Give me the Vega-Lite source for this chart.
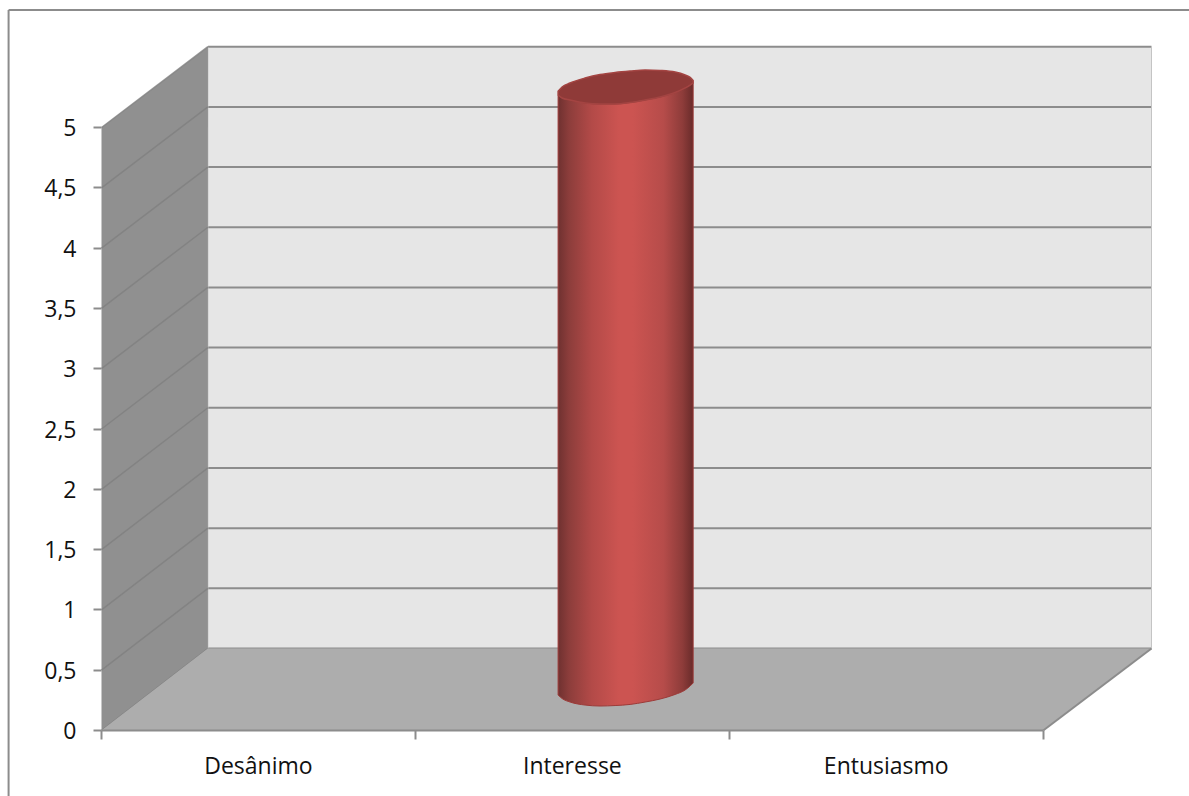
{
  "$schema": "https://vega.github.io/schema/vega-lite/v6.json",
  "width": 1050,
  "height": 685,
  "autosize": "none",
  "padding": {"left": 101.5, "top": 45.5, "right": 37.5, "bottom": 65.5},
  "background": "white",
  "config": {"view": {"stroke": null}, "axis": {"translate": 0, "grid": false, "domain": false, "title": null}},
  "datasets": {
    "parede_lateral": [
      {"x": 0, "base": 0, "topo": 5},
      {"x": 0.339, "base": 0.68, "topo": 5.67}
    ],
    "piso": [
      {"x": 0, "base": 0, "topo": 0},
      {"x": 0.339, "base": 0, "topo": 0.68},
      {"x": 3, "base": 0, "topo": 0.68},
      {"x": 3.345, "base": 0.68, "topo": 0.68}
    ],
    "parede_fundo": [{"x": 0.339, "x2": 3.345, "y": 0.68, "y2": 5.67}],
    "grade_fundo": [
      {"x": 0.339, "x2": 3.345, "y": 0.68, "y2": 0.68},
      {"x": 0.339, "x2": 3.345, "y": 1.179, "y2": 1.179},
      {"x": 0.339, "x2": 3.345, "y": 1.678, "y2": 1.678},
      {"x": 0.339, "x2": 3.345, "y": 2.177, "y2": 2.177},
      {"x": 0.339, "x2": 3.345, "y": 2.676, "y2": 2.676},
      {"x": 0.339, "x2": 3.345, "y": 3.175, "y2": 3.175},
      {"x": 0.339, "x2": 3.345, "y": 3.674, "y2": 3.674},
      {"x": 0.339, "x2": 3.345, "y": 4.173, "y2": 4.173},
      {"x": 0.339, "x2": 3.345, "y": 4.672, "y2": 4.672},
      {"x": 0.339, "x2": 3.345, "y": 5.171, "y2": 5.171},
      {"x": 0.339, "x2": 3.345, "y": 5.67, "y2": 5.67}
    ],
    "grade_lateral": [
      {"x": 0, "x2": 0.339, "y": 0, "y2": 0.68},
      {"x": 0, "x2": 0.339, "y": 0.5, "y2": 1.179},
      {"x": 0, "x2": 0.339, "y": 1, "y2": 1.678},
      {"x": 0, "x2": 0.339, "y": 1.5, "y2": 2.177},
      {"x": 0, "x2": 0.339, "y": 2, "y2": 2.676},
      {"x": 0, "x2": 0.339, "y": 2.5, "y2": 3.175},
      {"x": 0, "x2": 0.339, "y": 3, "y2": 3.674},
      {"x": 0, "x2": 0.339, "y": 3.5, "y2": 4.173},
      {"x": 0, "x2": 0.339, "y": 4, "y2": 4.672},
      {"x": 0, "x2": 0.339, "y": 4.5, "y2": 5.171},
      {"x": 0, "x2": 0.339, "y": 5, "y2": 5.67}
    ],
    "arestas": [
      {"x": 0, "x2": 3, "y": 0, "y2": 0},
      {"x": 3, "x2": 3.345, "y": 0, "y2": 0.68}
    ],
    "arestas_claras": [
      {"x": 0.339, "x2": 0.339, "y": 0.68, "y2": 5.67},
      {"x": 3.345, "x2": 3.345, "y": 0.68, "y2": 5.67}
    ],
    "moldura": [
      {"x": -0.296, "x2": -0.296, "y": 5.974, "y2": -0.543},
      {"x": -0.296, "x2": 3.465, "y": 5.974, "y2": 5.974}
    ],
    "cilindro": [
      {"posicao": 1.4546, "topo_sup": 5.3, "topo_inf": 5.27, "base": 0.294},
      {"posicao": 1.4673, "topo_sup": 5.336, "topo_inf": 5.245, "base": 0.265},
      {"posicao": 1.4928, "topo_sup": 5.369, "topo_inf": 5.228, "base": 0.236},
      {"posicao": 1.5406, "topo_sup": 5.41, "topo_inf": 5.203, "base": 0.211},
      {"posicao": 1.5884, "topo_sup": 5.439, "topo_inf": 5.195, "base": 0.203},
      {"posicao": 1.6362, "topo_sup": 5.456, "topo_inf": 5.195, "base": 0.207},
      {"posicao": 1.684, "topo_sup": 5.468, "topo_inf": 5.207, "base": 0.216},
      {"posicao": 1.7318, "topo_sup": 5.477, "topo_inf": 5.228, "base": 0.236},
      {"posicao": 1.7796, "topo_sup": 5.473, "topo_inf": 5.253, "base": 0.261},
      {"posicao": 1.8274, "topo_sup": 5.46, "topo_inf": 5.29, "base": 0.299},
      {"posicao": 1.8593, "topo_sup": 5.435, "topo_inf": 5.328, "base": 0.336},
      {"posicao": 1.8752, "topo_sup": 5.415, "topo_inf": 5.352, "base": 0.369},
      {"posicao": 1.8848, "topo_sup": 5.39, "topo_inf": 5.37, "base": 0.394}
    ]
  },
  "layer": [
    {
      "data": {"name": "parede_fundo"},
      "mark": {"type": "rect", "color": "#e6e6e6"},
      "encoding": {
        "x": {
          "field": "x",
          "type": "quantitative",
          "scale": {"domain": [0, 3.345], "nice": false, "zero": false},
          "axis": {
            "values": [0, 0.5, 1, 1.5, 2, 2.5, 3],
            "tickColor": "#8c8c8c",
            "tickWidth": 2,
            "tickSize": 9,
            "tickOpacity": {"condition": {"test": "datum.value % 1 === 0", "value": 1}, "value": 0},
            "labelExpr": "datum.value === 0.5 ? 'Desânimo' : datum.value === 1.5 ? 'Interesse' : datum.value === 2.5 ? 'Entusiasmo' : ''",
            "labelFont": "Open Sans",
            "labelFontSize": 23,
            "labelColor": "#111111",
            "labelPadding": 16,
            "labelFlush": false,
            "labelOverlap": false
          }
        },
        "x2": {"field": "x2"},
        "y": {
          "field": "y",
          "type": "quantitative",
          "scale": {"domain": [0, 5.68], "nice": false, "zero": false},
          "axis": {
            "values": [0, 0.5, 1, 1.5, 2, 2.5, 3, 3.5, 4, 4.5, 5],
            "format": ".1~f",
            "labelExpr": "replace(datum.label, '.', ',')",
            "tickColor": "#8c8c8c",
            "tickWidth": 2,
            "tickSize": 8,
            "labelFont": "Open Sans",
            "labelFontSize": 23,
            "labelColor": "#111111",
            "labelPadding": 17,
            "labelOffset": 1.5,
            "labelOverlap": false
          }
        },
        "y2": {"field": "y2"}
      }
    },
    {
      "data": {"name": "grade_fundo"},
      "mark": {"type": "rule", "color": "#8c8c8c", "strokeWidth": 2},
      "encoding": {
        "x": {"field": "x", "type": "quantitative"},
        "x2": {"field": "x2"},
        "y": {"field": "y", "type": "quantitative"},
        "y2": {"field": "y2"}
      }
    },
    {
      "data": {"name": "arestas_claras"},
      "mark": {"type": "rule", "color": "#c4c4c4", "strokeWidth": 1},
      "encoding": {
        "x": {"field": "x", "type": "quantitative"},
        "x2": {"field": "x2"},
        "y": {"field": "y", "type": "quantitative"},
        "y2": {"field": "y2"}
      }
    },
    {
      "data": {"name": "parede_lateral"},
      "mark": {"type": "area", "color": "#909090", "interpolate": "linear"},
      "encoding": {
        "x": {"field": "x", "type": "quantitative"},
        "y": {"field": "base", "type": "quantitative"},
        "y2": {"field": "topo"}
      }
    },
    {
      "data": {"name": "grade_lateral"},
      "mark": {"type": "rule", "color": "#808080", "strokeWidth": 1.5, "opacity": 0.8},
      "encoding": {
        "x": {"field": "x", "type": "quantitative"},
        "x2": {"field": "x2"},
        "y": {"field": "y", "type": "quantitative"},
        "y2": {"field": "y2"}
      }
    },
    {
      "data": {"name": "piso"},
      "mark": {"type": "area", "color": "#adadad", "interpolate": "linear"},
      "encoding": {
        "x": {"field": "x", "type": "quantitative"},
        "y": {"field": "base", "type": "quantitative"},
        "y2": {"field": "topo"}
      }
    },
    {
      "data": {"name": "arestas"},
      "mark": {"type": "rule", "color": "#8c8c8c", "strokeWidth": 2},
      "encoding": {
        "x": {"field": "x", "type": "quantitative"},
        "x2": {"field": "x2"},
        "y": {"field": "y", "type": "quantitative"},
        "y2": {"field": "y2"}
      }
    },
    {
      "data": {"name": "moldura"},
      "mark": {"type": "rule", "color": "#8c8c8c", "strokeWidth": 2},
      "encoding": {
        "x": {"field": "x", "type": "quantitative"},
        "x2": {"field": "x2"},
        "y": {"field": "y", "type": "quantitative"},
        "y2": {"field": "y2"}
      }
    },
    {
      "data": {"name": "cilindro"},
      "mark": {
        "type": "area",
        "interpolate": "monotone",
        "stroke": "#9c3a38",
        "strokeWidth": 1,
        "fill": {
          "gradient": "linear",
          "x1": 0,
          "x2": 1,
          "y1": 0,
          "y2": 0,
          "stops": [
            {"offset": 0, "color": "#6f3130"},
            {"offset": 0.08, "color": "#8c3d3b"},
            {"offset": 0.25, "color": "#b34a48"},
            {"offset": 0.45, "color": "#cc5451"},
            {"offset": 0.55, "color": "#cc5451"},
            {"offset": 0.78, "color": "#b64c4a"},
            {"offset": 0.92, "color": "#8e3c3a"},
            {"offset": 1, "color": "#692b2a"}
          ]
        }
      },
      "encoding": {
        "x": {"field": "posicao", "type": "quantitative"},
        "y": {"field": "base", "type": "quantitative"},
        "y2": {"field": "topo_inf"}
      }
    },
    {
      "data": {"name": "cilindro"},
      "mark": {
        "type": "area",
        "interpolate": "monotone",
        "color": "#8f3a38",
        "stroke": "#a34442",
        "strokeWidth": 1.5
      },
      "encoding": {
        "x": {"field": "posicao", "type": "quantitative"},
        "y": {"field": "topo_inf", "type": "quantitative"},
        "y2": {"field": "topo_sup"}
      }
    }
  ]
}
